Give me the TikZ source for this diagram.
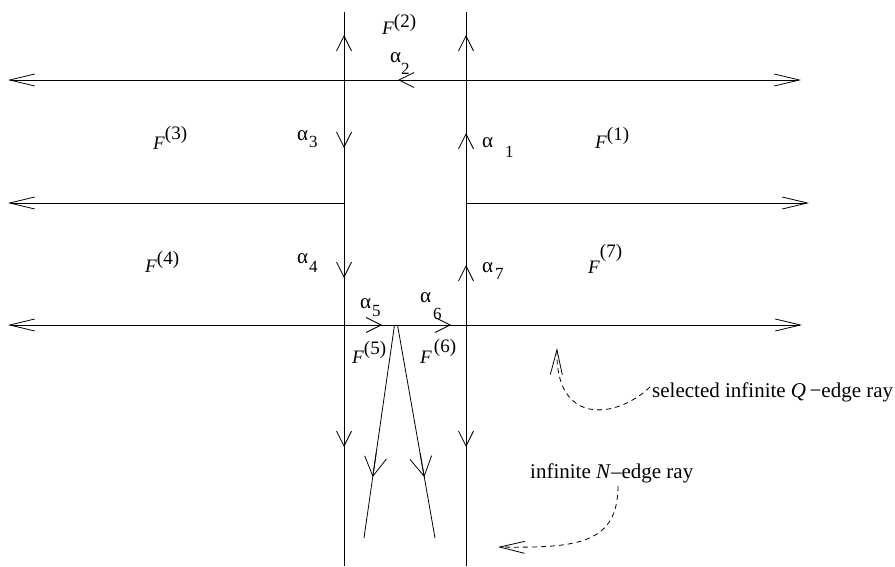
\documentclass[tikz,border=0pt]{standalone}
\usepackage{fontspec}
\setmainfont{Liberation Serif}
\usetikzlibrary{arrows.meta,calc}
\begin{document}
\begin{tikzpicture}[x=1pt,y=-1pt,
  ray/.style={line width=0.8pt},
  endtip/.style={-{Straight Barb[length=25pt,width=12pt]}},
  bothtips/.style={{Straight Barb[length=25pt,width=12pt]}-{Straight Barb[length=25pt,width=12pt]}},
  midtip/.style={-{Straight Barb[length=15pt,width=15pt]}},
  slanttip/.style={-{Straight Barb[length=19pt,width=22pt]}},
  note/.style={dash pattern=on 5pt off 4pt,-{Straight Barb[length=25pt,width=12pt]}},
  lab/.style={anchor=base west,inner sep=0pt,font=\fontsize{19}{21}\selectfont},
  alab/.style={anchor=base west,inner sep=0pt,font=\fontsize{21}{23}\selectfont},
  txt/.style={anchor=base west,inner sep=0pt,font=\fontsize{21}{25}\selectfont}]
\useasboundingbox (0,0) rectangle (895,567);
\newcommand{\subd}[2]{\raisebox{-#1pt}{\fontsize{17}{19}\selectfont #2}}
% coordinates
\coordinate (Lt) at (344,12);   \coordinate (Lb) at (344,566);
\coordinate (Rt) at (466,12);   \coordinate (Rb) at (466,566);
\coordinate (h1w) at (8,80);    \coordinate (h1e) at (801,80);
\coordinate (h2w) at (8,203);   \coordinate (h2a) at (344,203);
\coordinate (h2b) at (466,203); \coordinate (h2e) at (809,203);
\coordinate (h3w) at (8,325);   \coordinate (h3e) at (802,325);
\coordinate (s1) at (394.5,325); \coordinate (e1) at (364,538);
\coordinate (s2) at (397.5,325); \coordinate (e2) at (435,538);
% rays
\draw[ray] (Lt) -- (Lb);
\draw[ray] (Rt) -- (Rb);
\draw[ray,bothtips] (h1w) -- (h1e);
\draw[ray,endtip] (h2a) -- (h2w);
\draw[ray,endtip] (h2b) -- (h2e);
\draw[ray,bothtips] (h3w) -- (h3e);
\draw[ray] (s1) -- (e1);
\draw[ray] (s2) -- (e2);
% middle arrows
\draw[ray,midtip] (344,45) -- (344,35);
\draw[ray,midtip] (344,138) -- (344,148);
\draw[ray,midtip] (344,268) -- (344,278);
\draw[ray,midtip] (344,437) -- (344,447);
\draw[ray,midtip] (466,45) -- (466,35);
\draw[ray,midtip] (466,143) -- (466,133);
\draw[ray,midtip] (466,275) -- (466,265);
\draw[ray,midtip] (466,437) -- (466,447);
\draw[ray,midtip] (408,80) -- (398,80);
\draw[ray,midtip] (372,325) -- (382,325);
\draw[ray,midtip] (441,325) -- (451,325);
\draw[ray,slanttip] ($(s1)!0.6!(e1)$) -- ($(s1)!0.7136!(e1)$);
\draw[ray,slanttip] ($(s2)!0.6!(e2)$) -- ($(s2)!0.7136!(e2)$);
% face labels
\node[lab] (f1) at (595,149) {\textit{F}\raisebox{8pt}{(1)}};
\node[lab] (f2) at (382,35) {\textit{F}\raisebox{7pt}{(2)}};
\node[lab] (f3) at (153,150) {\textit{F}\raisebox{10pt}{(3)}};
\node[lab] (f4) at (145,272) {\textit{F}\raisebox{8pt}{(4)}};
\node[lab] (f5) at (352,363) {\textit{F}\raisebox{9pt}{(5)}};
\node[lab] (f6) at (420,363) {\textit{F}\kern2pt\raisebox{11pt}{(6)}};
\node[lab] (f7) at (588,273) {\textit{F}\raisebox{16pt}{(7)}};
% edge labels
\node[alab] (a1) at (482,148) {α\kern12pt\subd{10}{1}};
\node[alab] (a2) at (390,63) {α\kern0pt\subd{12}{2}};
\node[alab] (a3) at (297,141) {α\kern1pt\subd{7}{3}};
\node[alab] (a4) at (297,263) {α\kern1pt\subd{9}{4}};
\node[alab] (a5) at (360,308) {α\kern1pt\subd{9}{5}};
\node[alab] (a6) at (420,302) {α\kern2pt\subd{17}{6}};
\node[alab] (a7) at (482,272) {α\kern2pt\subd{7}{7}};
% annotations
\node[txt] (qlab) at (652,397) {selected infinite \textit{Q}\,−edge ray};
\node[txt] (nlab) at (530,478) {infinite \textit{N}–edge ray};
\draw[ray,note] ($(qlab.base west)+(-2pt,10pt)$) .. controls (615,420) and (555,425) .. (557,348);
\draw[ray,note] ($(nlab.base west)+(88pt,-8pt)$) .. controls (618,545) and (575,548) .. (498,547);
\end{tikzpicture}
\end{document}
